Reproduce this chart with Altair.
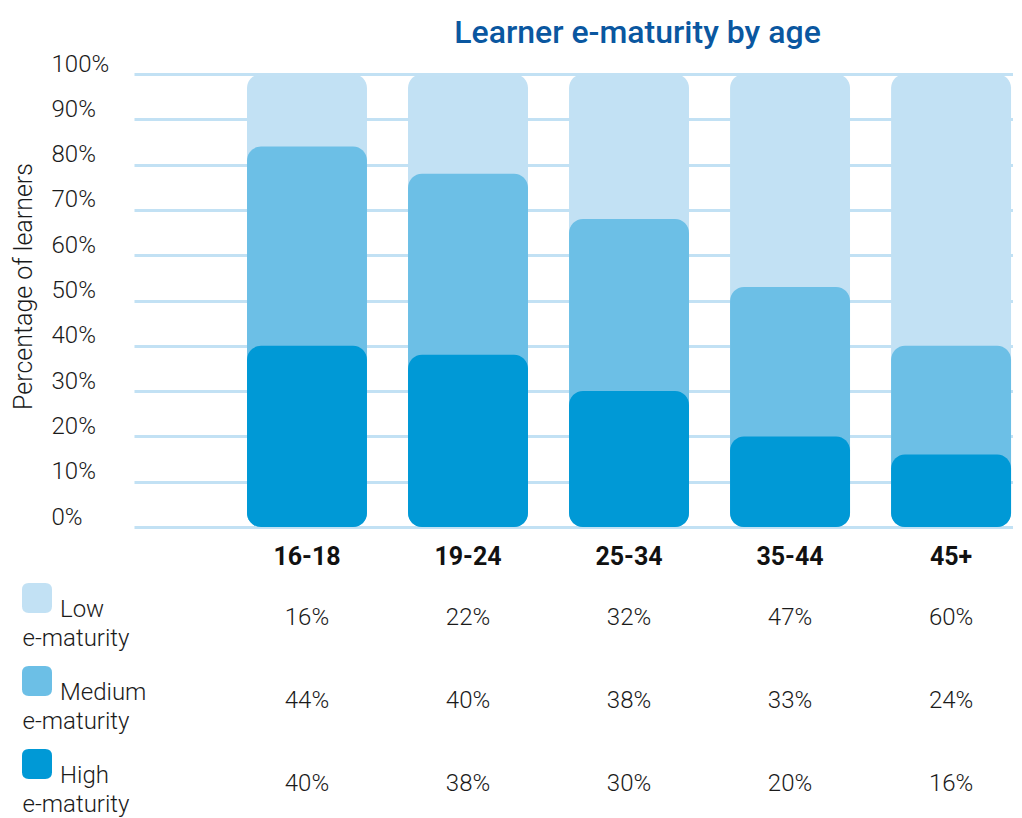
import altair as alt
import pandas as pd

ages = ["16-18", "19-24", "25-34", "35-44", "45+"]
low = [16, 22, 32, 47, 60]
medium = [44, 40, 38, 33, 24]
high = [40, 38, 30, 20, 16]
levels = ["Low", "Medium", "High"]
level_colors = ["#C2E1F4", "#6CBFE6", "#0099D6"]
y_ticks = [0, 10, 20, 30, 40, 50, 60, 70, 80, 90, 100]

rows = []
for i, a in enumerate(ages):
    h, m, l = high[i], medium[i], low[i]
    rows.append({"age": a, "level": "Low", "value": l, "top": h + m + l, "ord": 0})
    rows.append({"age": a, "level": "Medium", "value": m, "top": h + m, "ord": 1})
    rows.append({"age": a, "level": "High", "value": h, "top": h, "ord": 2})
df = pd.DataFrame(rows)

FONT = "Roboto"
TXT = "#1a1a1a"
GRID = "#C2E1F4"
W = 879

xscale = alt.Scale(type="band", domain=ages, paddingInner=0.255, paddingOuter=0.357, align=0.983)

rounded = ("M -1 -0.55 Q -1 -1 -0.55 -1 L 0.55 -1 Q 1 -1 1 -0.55 L 1 0.55 "
           "Q 1 1 0.55 1 L -0.55 1 Q -1 1 -1 0.55 Z")

bars = alt.Chart(df).mark_bar(cornerRadius=14).encode(
    x=alt.X("age:N", scale=xscale, sort=ages,
            axis=alt.Axis(title=None, labelAngle=0, domain=False, ticks=False, tickSize=0,
                          labelFont=FONT, labelFontSize=25, labelFontWeight="bold",
                          labelColor="#111111", labelPadding=17)),
    y=alt.Y("top:Q", stack=None, scale=alt.Scale(domain=[0, 100], nice=False),
            axis=alt.Axis(values=y_ticks, labelExpr="datum.value + '%'",
                          title="Percentage of learners", titleFont=FONT, titleFontSize=25,
                          titleFontWeight=300, titleColor=TXT, titleX=-111, titleY=212,
                          titleAngle=270, titleBaseline="middle", titleAlign="center",
                          domain=False, ticks=False, tickSize=0,
                          labelAlign="left", labelPadding=83, labelBaseline="alphabetic",
                          labelOffset=-3, labelFont=FONT, labelFontSize=24,
                          labelFontWeight=300, labelColor=TXT,
                          grid=True, gridColor=GRID, gridWidth=3)),
    color=alt.Color("level:N", scale=alt.Scale(domain=levels, range=level_colors),
                    legend=alt.Legend(title=None, orient="none", legendX=-112, legendY=509,
                                      direction="vertical", symbolType=rounded,
                                      symbolSize=900, symbolStrokeWidth=0, symbolOpacity=1,
                                      labelFont=FONT, labelFontSize=24, labelFontWeight=300,
                                      labelColor=TXT, labelBaseline="top", labelOffset=8,
                                      rowPadding=44)),
    order=alt.Order("ord:Q"),
).properties(
    width=W, height=453,
    title=alt.TitleParams("Learner e-maturity by age", font=FONT, fontSize=32,
                          fontWeight=500, color="#0A57A0", anchor="middle", dx=64,
                          offset=2),
)

table = alt.Chart(df).transform_calculate(
    label="datum.value + '%'"
).mark_text(font=FONT, fontSize=24, fontWeight=300, color=TXT, baseline="middle").encode(
    x=alt.X("age:N", scale=xscale, sort=ages, axis=None),
    y=alt.Y("level:N", sort=levels, scale=alt.Scale(type="point", padding=0.5),
            axis=alt.Axis(title=None, domain=False, ticks=False, tickSize=0, grid=False,
                          labelExpr="'e-maturity'", labelAlign="left", labelPadding=112,
                          labelBaseline="alphabetic", labelOffset=28, labelFont=FONT,
                          labelFontSize=24, labelFontWeight=300, labelColor=TXT)),
    text="label:N",
).properties(width=W, height=249)

chart = alt.vconcat(bars, table, spacing=7).properties(
    padding={"left": 3, "top": 9, "right": 0, "bottom": 0}
).configure(background="white").configure_view(stroke=None)

chart.save("out.html", embed_options={"renderer": "svg", "actions": False})
